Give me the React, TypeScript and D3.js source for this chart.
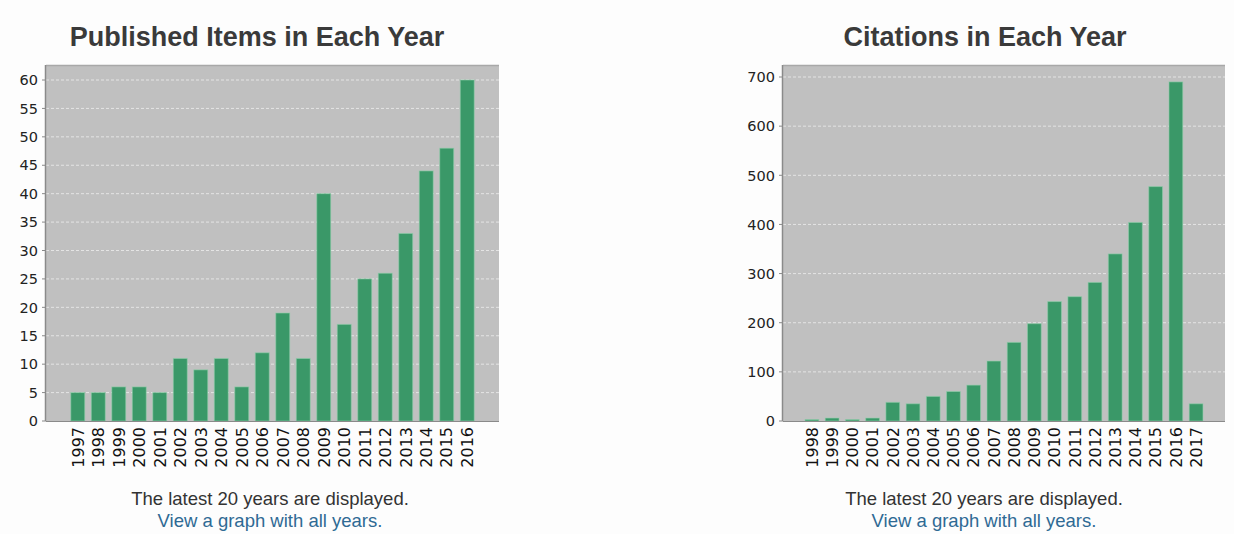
import React from "react";
import * as d3 from "d3";

const pubYears = ["1997","1998","1999","2000","2001","2002","2003","2004","2005","2006","2007","2008","2009","2010","2011","2012","2013","2014","2015","2016"];
const pubValues = [5,5,6,6,5,11,9,11,6,12,19,11,40,17,25,26,33,44,48,60];
const pubTicks = [0,5,10,15,20,25,30,35,40,45,50,55,60];

const citYears = ["1998","1999","2000","2001","2002","2003","2004","2005","2006","2007","2008","2009","2010","2011","2012","2013","2014","2015","2016","2017"];
const citValues = [3,6,3,6,38,35,50,60,73,122,160,198,243,253,282,340,404,477,690,35];
const citTicks = [0,100,200,300,400,500,600,700];

const titles = ["Published Items in Each Year", "Citations in Each Year"];
const footerLine1 = "The latest 20 years are displayed.";
const footerLine2 = "View a graph with all years.";

type ChartProps = {
  title: string;
  years: string[];
  values: number[];
  ticks: number[];
  left: number;
  right: number;
  top: number;
  bottom: number;
  topTickY: number;
  padOuter: number;
  titleX: number;
  footerX: number;
};

function Chart(p: ChartProps) {
  const x = d3.scaleBand<string>().domain(p.years).range([p.left, p.right]).paddingInner(0.32).paddingOuter(p.padOuter);
  const maxTick = p.ticks[p.ticks.length - 1];
  const y = d3.scaleLinear().domain([0, maxTick]).range([p.bottom, p.topTickY]);
  const tickFont = "'DejaVu Sans', Verdana, sans-serif";
  return (
    <g>
      <text x={p.titleX} y={46} textAnchor="middle" fontFamily="'Liberation Sans', Arial, sans-serif" fontWeight="bold" fontSize={27} fill="#3a3a3a">{p.title}</text>
      <rect x={p.left} y={p.top} width={p.right - p.left} height={p.bottom - p.top} fill="#c0c0c0" />
      <line x1={p.left} x2={p.right} y1={p.top + 0.5} y2={p.top + 0.5} stroke="#a8a8a8" strokeWidth={1.5} />
      {p.ticks.map((t) => (
        <g key={"g" + t}>
          {t > 0 && (
            <line x1={p.left} x2={p.right} y1={y(t)} y2={y(t)} stroke="#e4e4e4" strokeWidth={1} strokeDasharray="3,2" />
          )}
          <line x1={p.left - 4} x2={p.left} y1={y(t)} y2={y(t)} stroke="#888" strokeWidth={1} />
          <text x={p.left - 8} y={y(t)} dy="0.36em" textAnchor="end" fontFamily={tickFont} fontSize={14.5} fill="#222">{t}</text>
        </g>
      ))}
      {p.values.map((v, i) => (
        <rect key={"b" + i} x={x(p.years[i])} y={y(v)} width={x.bandwidth()} height={p.bottom - y(v)} fill="#3a9868" stroke="#8fcfaa" strokeOpacity={0.6} strokeWidth={1} />
      ))}
      <line x1={p.left - 0.5} x2={p.left - 0.5} y1={p.top} y2={p.bottom} stroke="#8a8a8a" strokeWidth={1.5} />
      <line x1={p.left} x2={p.right} y1={p.bottom + 0.5} y2={p.bottom + 0.5} stroke="#8a8a8a" strokeWidth={1} />
      {p.years.map((yr) => {
        const cx = (x(yr) as number) + x.bandwidth() / 2;
        return (
          <text key={"x" + yr} transform={`translate(${cx},${p.bottom + 6}) rotate(-90)`} textAnchor="end" dy="0.36em" fontFamily={tickFont} fontSize={16} fill="#111">{yr}</text>
        );
      })}
      <text x={p.footerX} y={505} textAnchor="middle" fontFamily="'Liberation Sans', Arial, sans-serif" fontSize={18.5} fill="#333">{footerLine1}</text>
      <text x={p.footerX} y={527} textAnchor="middle" fontFamily="'Liberation Sans', Arial, sans-serif" fontSize={18.5} fill="#2f6a94">{footerLine2}</text>
    </g>
  );
}

export default function App() {
  return (
    <svg width={1234} height={534} style={{ position: "absolute", left: 0, top: 0, background: "#fdfdfd" }}>
      <rect x={0} y={0} width={1234} height={534} fill="#fdfdfd" />
      <Chart title={titles[0]} years={pubYears} values={pubValues} ticks={pubTicks}
        left={46} right={499} top={65} bottom={421} topTickY={80} padOuter={1.21} titleX={257} footerX={270} />
      <Chart title={titles[1]} years={citYears} values={citValues} ticks={citTicks}
        left={783} right={1225} top={65} bottom={421} topTickY={77} padOuter={1.09} titleX={985} footerX={984} />
    </svg>
  );
}
